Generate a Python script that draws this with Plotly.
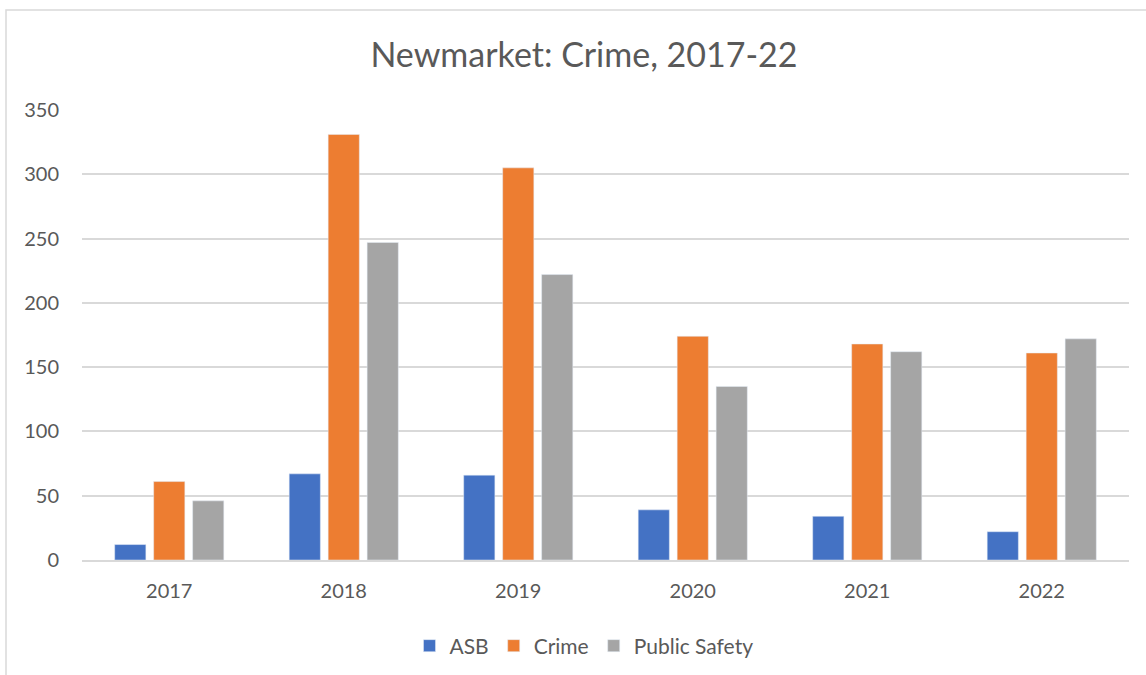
import plotly.graph_objects as go

years = ["2017", "2018", "2019", "2020", "2021", "2022"]
asb = [12, 67, 66, 39, 34, 22]
crime = [61, 331, 305, 174, 168, 161]
public_safety = [46, 247, 222, 135, 162, 172]

FONT = "Lato, 'Open Sans', sans-serif"
TXT = "#595959"

fig = go.Figure()
fig.add_trace(go.Bar(name="ASB", x=years, y=asb, marker_color="#4472C4"))
fig.add_trace(go.Bar(name="Crime", x=years, y=crime, marker_color="#ED7D31"))
fig.add_trace(go.Bar(name="Public Safety", x=years, y=public_safety, marker_color="#A5A5A5"))

L, R, T, B = 82, 17, 110, 115
W, H = 1146, 675
pw, ph = W - L - R, H - T - B

fig.update_layout(
    width=W, height=H,
    margin=dict(l=L, r=R, t=T, b=B, autoexpand=False),
    paper_bgcolor="white", plot_bgcolor="white",
    barmode="group", bargap=0.33, bargroupgap=0.2,
    title=dict(text="Newmarket: Crime, 2017-22", x=584 / W, xanchor="center",
               y=1 - 55 / H, yanchor="middle",
               font=dict(family=FONT, size=34, color=TXT)),
    font=dict(family=FONT, size=20, color=TXT),
    showlegend=True,
    legend=dict(orientation="h", x=(584 - L) / pw, xanchor="center",
                y=-(646 - (T + ph)) / ph, yanchor="middle",
                font=dict(family=FONT, size=21, color=TXT),
                itemwidth=30, traceorder="normal"),
    xaxis=dict(showgrid=False, showline=True, linecolor="#d9d9d9", linewidth=2,
               ticks="", ticklabelstandoff=12,
               tickfont=dict(family=FONT, size=20, color=TXT)),
    yaxis=dict(range=[0, 350], dtick=50, showgrid=True, gridcolor="#d9d9d9", gridwidth=1.5,
               zeroline=False, showline=False, ticks="", ticklabelstandoff=22,
               tickfont=dict(family=FONT, size=20, color=TXT)),
    shapes=[dict(type="rect", xref="paper", yref="paper",
                 x0=(6 - L) / pw, x1=(1160 - L) / pw,
                 y0=-(690 - (T + ph)) / ph, y1=1 + (T - 10) / ph,
                 line=dict(color="#d9d9d9", width=1.5), fillcolor="rgba(0,0,0,0)", layer="below")],
)

fig.write_html("out.html", config={"displayModeBar": False},
               post_script="document.body.style.margin='0';")
